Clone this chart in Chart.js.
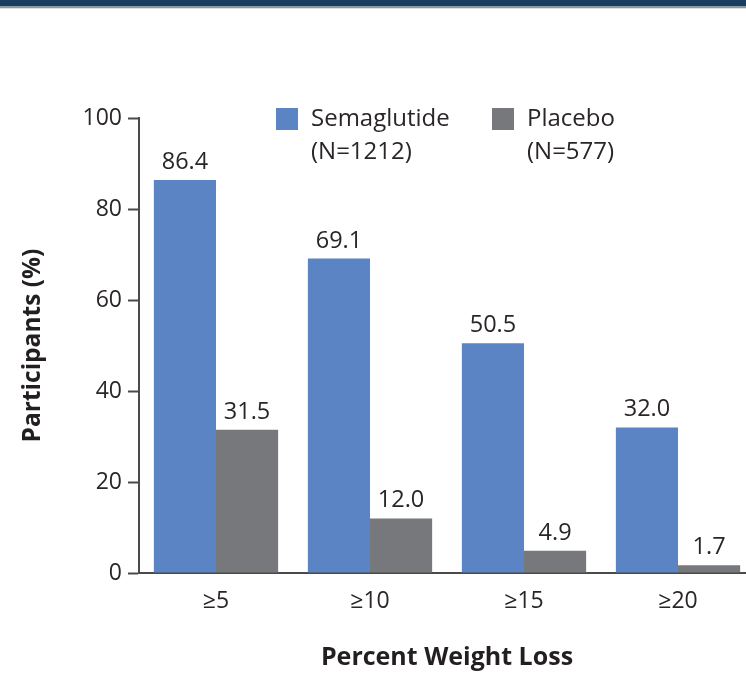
<!DOCTYPE html>
<html>
<head>
<meta charset="utf-8">
<script src="https://cdn.jsdelivr.net/npm/chart.js@4"></script>
<style>
  html, body { margin: 0; padding: 0; background: #fff; overflow: hidden; width: 746px; height: 674px; }
  #wrap { position: absolute; left: 0; top: 0; width: 775px; height: 674px; }
  #topbar { position: absolute; left: 0; top: 0; width: 746px; height: 6px; background: #1b3d5f; z-index: 2; }
  #topline { position: absolute; left: 0; top: 6px; width: 746px; height: 2px; background: #8e99a3; z-index: 2; }
  #topline2 { position: absolute; left: 0; top: 8px; width: 746px; height: 1px; background: #dde1e5; z-index: 2; }
</style>
</head>
<body>
<div id="topbar"></div><div id="topline"></div><div id="topline2"></div>
<div id="wrap"><canvas id="c" width="775" height="674"></canvas></div>
<script>
const categories = ['\u22655', '\u226510', '\u226515', '\u226520'];
const seriesNames = ['Semaglutide', 'Placebo'];
const seriesCounts = ['(N=1212)', '(N=577)'];
const semaglutide = [86.4, 69.1, 50.5, 32.0];
const placebo = [31.5, 12.0, 4.9, 1.7];
const yTicks = [0, 20, 40, 60, 80, 100];
const xTitle = 'Percent Weight Loss';
const yTitle = 'Participants (%)';

const BLUE = '#5b84c4';
const GRAY = '#77787b';
const TEXT = '#2a2627';
const FONT = "'Open Sans', 'DejaVu Sans', sans-serif";

const valueLabels = {
  id: 'valueLabels',
  afterDatasetsDraw(chart) {
    const ctx = chart.ctx;
    ctx.save();
    ctx.font = '23.5px ' + FONT;
    ctx.fillStyle = TEXT;
    ctx.textAlign = 'center';
    ctx.textBaseline = 'alphabetic';
    chart.data.datasets.forEach((ds, i) => {
      chart.getDatasetMeta(i).data.forEach((bar, j) => {
        ctx.fillText(ds.data[j].toFixed(1), bar.x, bar.y - 11);
      });
    });
    ctx.restore();
  }
};

const customLegend = {
  id: 'customLegend',
  afterDraw(chart) {
    const ctx = chart.ctx;
    const xs = [276, 492];
    ctx.save();
    ctx.font = '24px ' + FONT;
    ctx.textAlign = 'left';
    ctx.textBaseline = 'alphabetic';
    chart.data.datasets.forEach((ds, i) => {
      ctx.fillStyle = ds.backgroundColor;
      ctx.fillRect(xs[i], 108, 22, 22);
      ctx.fillStyle = TEXT;
      ctx.fillText(seriesNames[i], xs[i] + 35, 126);
      ctx.fillText(seriesCounts[i], xs[i] + 35, 159);
    });
    ctx.restore();
  }
};

new Chart(document.getElementById('c'), {
  type: 'bar',
  data: {
    labels: categories,
    datasets: [
      { label: seriesNames[0], data: semaglutide, backgroundColor: BLUE, borderWidth: 0,
        categoryPercentage: 0.807, barPercentage: 1.0 },
      { label: seriesNames[1], data: placebo, backgroundColor: GRAY, borderWidth: 0,
        categoryPercentage: 0.807, barPercentage: 1.0 }
    ]
  },
  options: {
    responsive: false,
    animation: false,
    devicePixelRatio: 1,
    layout: { padding: { top: 118, right: 20, left: 0, bottom: 0 } },
    plugins: { legend: { display: false }, tooltip: { enabled: false } },
    scales: {
      x: {
        grid: { display: true, drawOnChartArea: false, drawTicks: false },
        border: { display: true, color: '#4a4a4a', width: 2 },
        ticks: { font: { family: FONT, size: 23 }, color: TEXT, padding: 15 },
        title: { display: true, text: xTitle, color: '#231f20',
                 font: { family: FONT, size: 25, weight: 'bold' }, padding: { top: 0, bottom: 1 } },
        afterFit(s) { s.height = 101; }
      },
      y: {
        min: 0, max: 100,
        afterBuildTicks(s) { s.ticks = yTicks.map(v => ({ value: v })); },
        grid: { display: true, drawOnChartArea: false, drawTicks: true, tickLength: 11,
                tickColor: '#4a4a4a', tickWidth: 2 },
        border: { display: true, color: '#4a4a4a', width: 2 },
        ticks: { font: { family: FONT, size: 23 }, color: TEXT, padding: 6 },
        title: { display: true, text: yTitle, color: '#231f20',
                 font: { family: FONT, size: 24.5, weight: 'bold' }, padding: { top: 18, bottom: 0 } },
        afterFit(s) { s.width = 139; }
      }
    }
  },
  plugins: [valueLabels, customLegend]
});
</script>
</body>
</html>
